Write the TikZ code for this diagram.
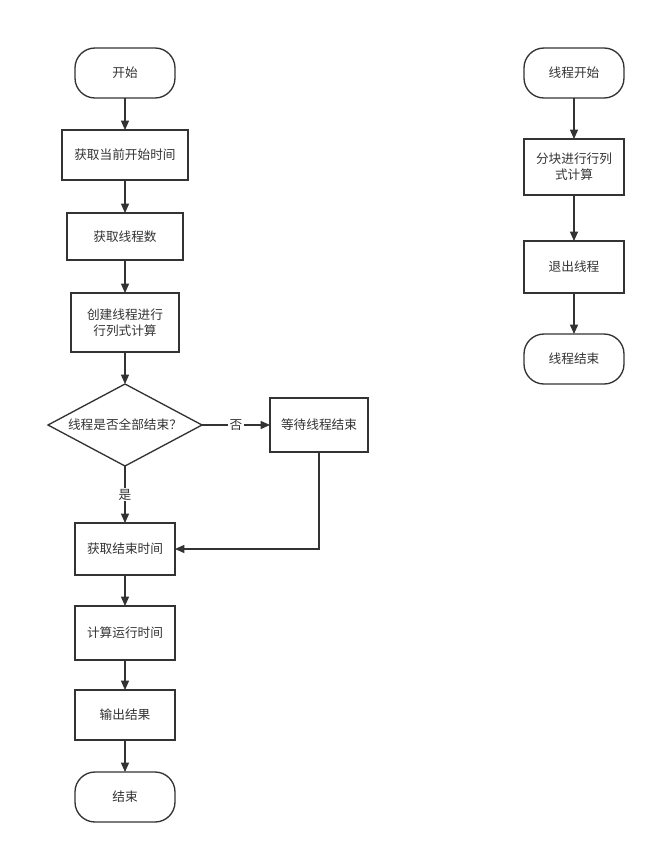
\documentclass[tikz,border=0pt]{standalone}
\usepackage{fontspec}
\setmainfont{Noto Sans CJK SC}
\usetikzlibrary{positioning, shapes.geometric, arrows.meta}
\definecolor{linegray}{HTML}{333333}

\begin{document}
\begin{tikzpicture}[
            every node/.style={font=\fontsize{9.5}{12}\selectfont, text=linegray},
            module/.style={draw=linegray, line width=1pt, minimum width=75pt, align=center, inner sep=2pt, outer sep=0pt},
            terminal/.style={module, rounded corners=15pt, minimum height=37.5pt},
            decision/.style={draw=linegray, line width=1pt, diamond, aspect=1.88, inner sep=0pt, outer sep=0pt, minimum width=115.5pt, minimum height=61.5pt},
            arrow/.style={-{Triangle[length=7pt, width=6pt]}, line width=1pt, draw=linegray},
            branch/.style={fill=white, inner sep=1pt}
        ]
            \useasboundingbox (0,0) rectangle (492pt,-640.5pt);

            \node [terminal] (start) at (93.75pt,-54.75pt) {开始};
            \node [below=24pt of start, module, minimum width=94.5pt, minimum height=37.5pt] (tstart) {获取当前开始时间};
            \node [below=24.75pt of tstart, module, minimum width=87pt, minimum height=35.25pt] (nthread) {获取线程数};
            \node [below=24.75pt of nthread, module, minimum width=81pt, minimum height=44.25pt] (create) {创建线程进行\\行列式计算};
            \node [below=24pt of create, decision] (alldone) {线程是否全部结束？};
            \node [right=51pt of alldone, module, minimum width=73.5pt, minimum height=40.5pt] (wait) {等待线程结束};
            \node [below=42.75pt of alldone, module, minimum height=39pt] (tend) {获取结束时间};
            \node [below=23.25pt of tend, module, minimum height=40.5pt] (runtime) {计算运行时间};
            \node [below=22.5pt of runtime, module, minimum height=37.5pt] (output) {输出结果};
            \node [below=24pt of output, terminal] (stop) {结束};

            \node [terminal] (tbegin) at (430.5pt,-54.75pt) {线程开始};
            \node [below=30.75pt of tbegin, module, minimum height=42pt] (block) {分块进行行列\\式计算};
            \node [below=34.5pt of block, module, minimum height=39pt] (texit) {退出线程};
            \node [below=30.75pt of texit, terminal] (tfinish) {线程结束};

            \draw [arrow] (start) -- (tstart);
            \draw [arrow] (tstart) -- (nthread);
            \draw [arrow] (nthread) -- (create);
            \draw [arrow] (create) -- (alldone);
            \draw [arrow] (alldone) -- node[branch] {否} (wait);
            \draw [arrow] (alldone) -- node[branch] {是} (tend);
            \draw [arrow] (wait) |- (tend);
            \draw [arrow] (tend) -- (runtime);
            \draw [arrow] (runtime) -- (output);
            \draw [arrow] (output) -- (stop);

            \draw [arrow] (tbegin) -- (block);
            \draw [arrow] (block) -- (texit);
            \draw [arrow] (texit) -- (tfinish);

        \end{tikzpicture}
\end{document}
